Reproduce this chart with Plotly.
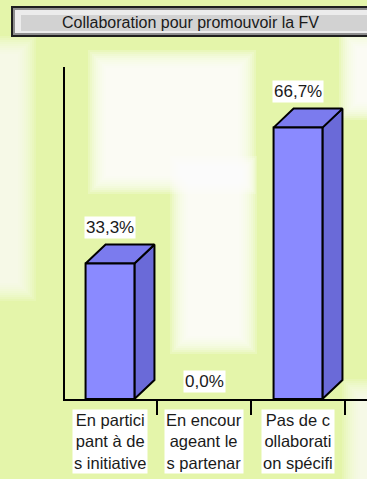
import plotly.graph_objects as go

# ---- data ----
categories = [
    "En partici<br>pant à de<br>s initiative",
    "En encour<br>ageant le<br>s partenar",
    "Pas de c<br>ollaborati<br>on spécifi",
]
values = [33.3, 0.0, 66.7]
value_labels = ["33,3%", "0,0%", "66,7%"]
title_text = "Collaboration pour promouvoir la FV"

# ---- style ----
W, H = 367, 479
ML, MR, MT, MB = 65, 0, 67, 80
PW, PH = W - ML - MR, H - MT - MB
BG = "#e4f5aa"
FRONT = "#8a8aff"
TOP = "#7b7bee"
SIDE = "#6a6ad8"
FONT = "Liberation Sans, Arial, sans-serif"
HALF_W = 0.26   # half bar width (category units)
DX = 0.213      # 3D depth, x (category units)
DY = 4.67       # 3D depth, y (value units)
YMAX = 81.6

fig = go.Figure()


def px_x(v):
    return (v - ML) / PW


def px_y(v):
    return (H - MB - v) / PH


shapes = []


def soft_rect(x0, y0, x1, y1, steps=10, pad=2, op=0.2):
    for i in range(steps):
        g = pad * (steps - 1 - i)
        shapes.append(dict(type="rect", xref="paper", yref="paper", layer="below",
                           x0=px_x(x0 - g), x1=px_x(x1 + g),
                           y0=px_y(y1 + g), y1=px_y(y0 - g),
                           fillcolor="white", opacity=op, line=dict(width=0)))


soft_rect(106, 68, 238, 176)
soft_rect(188, 174, 239, 336)
soft_rect(-20, 54, 18, 283, op=0.13)
soft_rect(357, 48, 390, 102)
soft_rect(360, 397, 390, 500, op=0.13)

# title box
shapes.append(dict(type="rect", xref="paper", yref="paper", layer="above",
                   x0=px_x(12), x1=px_x(372), y0=px_y(36), y1=px_y(7),
                   fillcolor="#8e8e8e", line=dict(color="#1e1e1e", width=2)))
shapes.append(dict(type="rect", xref="paper", yref="paper", layer="above",
                   x0=px_x(15), x1=px_x(372), y0=px_y(33), y1=px_y(10),
                   fillcolor="#ececec", line=dict(width=0)))
shapes.append(dict(type="rect", xref="paper", yref="paper", layer="above",
                   x0=px_x(21), x1=px_x(372), y0=px_y(31), y1=px_y(15),
                   fillcolor="#d2d2d2", line=dict(width=0)))
fig.add_annotation(text=title_text, xref="paper", yref="paper",
                   x=px_x(190), y=px_y(23), xanchor="center", yanchor="middle",
                   showarrow=False, font=dict(family=FONT, size=16, color="#1a1a1a"))

# 3D bars drawn as polygons from data
for i, v in enumerate(values):
    if v <= 0:
        continue
    xl, xr = i - HALF_W, i + HALF_W
    fig.add_trace(go.Scatter(
        x=[xr, xr + DX, xr + DX, xr, xr], y=[0, DY, v + DY, v, 0],
        mode="lines", fill="toself", fillcolor=SIDE,
        line=dict(color="black", width=2), hoverinfo="skip", showlegend=False))
    fig.add_trace(go.Scatter(
        x=[xl, xl + DX, xr + DX, xr, xl], y=[v, v + DY, v + DY, v, v],
        mode="lines", fill="toself", fillcolor=TOP,
        line=dict(color="black", width=2), hoverinfo="skip", showlegend=False))
    fig.add_trace(go.Scatter(
        x=[xl, xl, xr, xr, xl], y=[0, v, v, 0, 0],
        mode="lines", fill="toself", fillcolor=FRONT,
        line=dict(color="black", width=2), hoverinfo="skip", showlegend=False))

# value labels
for i, (v, lab) in enumerate(zip(values, value_labels)):
    fig.add_annotation(text=lab, x=i, y=(v + DY) if v > 0 else 0,
                       xanchor="center", yanchor="bottom", yshift=6,
                       showarrow=False, bgcolor="white", borderpad=1,
                       font=dict(family=FONT, size=17, color="#1a1a1a"))

# category labels
for i, c in enumerate(categories):
    fig.add_annotation(text=c, x=i, y=0, yref="paper",
                       xanchor="center", yanchor="top", yshift=-10,
                       showarrow=False, bgcolor="white", borderpad=1,
                       font=dict(family=FONT, size=16.5, color="#1a1a1a"))

fig.update_layout(
    width=W, height=H,
    margin=dict(l=ML, r=MR, t=MT, b=MB),
    paper_bgcolor=BG, plot_bgcolor="rgba(0,0,0,0)",
    shapes=shapes, showlegend=False,
    xaxis=dict(range=[-(110 - 65) / 94, (367 - 110) / 94], showgrid=False,
               zeroline=False, showline=True, linecolor="black", linewidth=2,
               tickvals=[0.5, 1.5, 2.5], ticks="outside", ticklen=14,
               tickwidth=2, tickcolor="black", showticklabels=False,
               fixedrange=True),
    yaxis=dict(range=[0, YMAX], showgrid=False, zeroline=False,
               showline=True, linecolor="black", linewidth=2,
               showticklabels=False, ticks="", fixedrange=True),
)

fig.write_html("out.html")
